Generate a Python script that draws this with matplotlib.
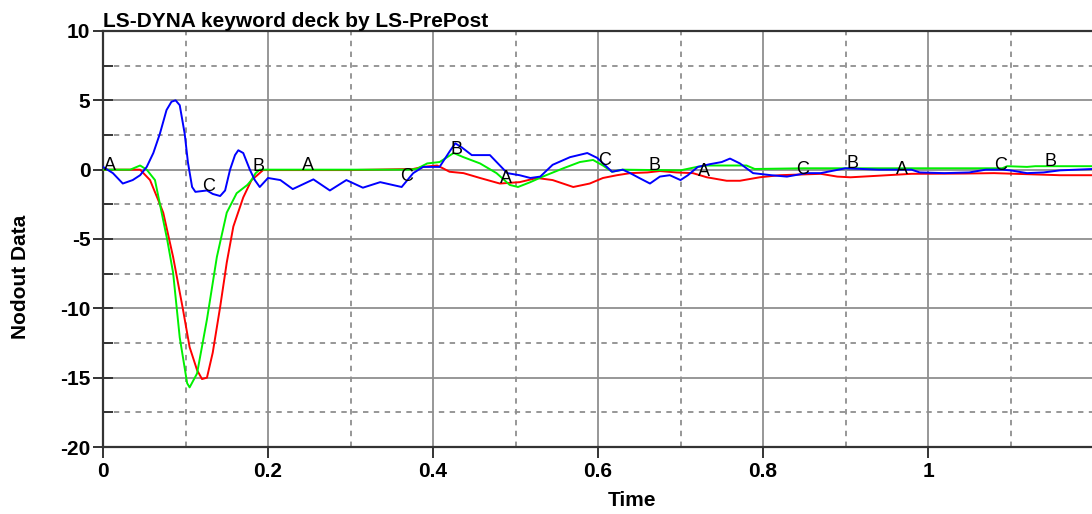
import numpy as np
import matplotlib
matplotlib.use("Agg")
import matplotlib.pyplot as plt
from matplotlib.ticker import MultipleLocator

plt.rcParams['font.family'] = ['Liberation Sans', 'DejaVu Sans']
plt.rcParams['axes.unicode_minus'] = False

# Curve A (red)
t_a = [0, 0.045, 0.057, 0.067, 0.073, 0.085, 0.097, 0.105, 0.114, 0.12, 0.126,
       0.133, 0.142, 0.15, 0.158, 0.17, 0.18, 0.187, 0.194, 0.30, 0.376, 0.388,
       0.405, 0.412, 0.42, 0.437, 0.457, 0.481, 0.505, 0.526, 0.545, 0.57, 0.59,
       0.606, 0.623, 0.639, 0.66, 0.675, 0.695, 0.715, 0.732, 0.756, 0.772,
       0.796, 0.82, 0.87, 0.89, 0.906, 0.936, 0.98, 1.045, 1.08, 1.16, 1.2]
y_a = [0, 0, -0.75, -2.2, -3.1, -6.3, -10.1, -12.8, -14.45, -15.1, -15.0,
       -13.2, -9.9, -6.7, -4.1, -2.0, -0.75, -0.4, -0.03, -0.03, 0.05, 0.2,
       0.3, 0.1, -0.15, -0.25, -0.6, -1.0, -0.9, -0.6, -0.75, -1.25, -1.0,
       -0.6, -0.4, -0.25, -0.2, -0.1, -0.2, -0.25, -0.55, -0.8, -0.8,
       -0.55, -0.4, -0.3, -0.5, -0.55, -0.45, -0.3, -0.28, -0.25, -0.4, -0.4]

# Curve B (green)
t_b = [0, 0.033, 0.045, 0.053, 0.063, 0.078, 0.085, 0.093, 0.102, 0.105, 0.114,
       0.126, 0.138, 0.15, 0.162, 0.175, 0.18, 0.185, 0.19, 0.37, 0.38, 0.393,
       0.408, 0.425, 0.437, 0.457, 0.477, 0.493, 0.503, 0.518, 0.533, 0.558,
       0.578, 0.594, 0.606, 0.617, 0.63, 0.70, 0.72, 0.732, 0.78, 0.79, 0.85,
       1.09, 1.096, 1.12, 1.13, 1.2]
y_b = [0, 0, 0.3, 0, -0.75, -5.1, -7.45, -12.1, -15.4, -15.7, -14.7,
       -10.8, -6.3, -3.1, -1.7, -1.1, -0.75, -0.25, 0, 0, 0.05, 0.45,
       0.55, 1.2, 0.9, 0.45, -0.25, -1.1, -1.25, -0.9, -0.5, 0.1,
       0.55, 0.7, 0.3, -0.15, 0, -0.05, 0.2, 0.3, 0.3, 0.05, 0.1,
       0.1, 0.25, 0.2, 0.25, 0.25]

# Curve C (blue)
t_c = [0, 0.012, 0.024, 0.036, 0.045, 0.053, 0.061, 0.069, 0.077, 0.083, 0.088,
       0.093, 0.099, 0.103, 0.108, 0.112, 0.126, 0.133, 0.142, 0.148, 0.154,
       0.16, 0.164, 0.17, 0.178, 0.184, 0.19, 0.2, 0.215, 0.23, 0.255, 0.275,
       0.295, 0.315, 0.336, 0.362, 0.376, 0.388, 0.408, 0.42, 0.427, 0.435,
       0.447, 0.469, 0.49, 0.505, 0.518, 0.53, 0.545, 0.566, 0.587, 0.599,
       0.617, 0.63, 0.639, 0.65, 0.663, 0.675, 0.687, 0.70, 0.709, 0.721,
       0.736, 0.75, 0.76, 0.772, 0.788, 0.81, 0.829, 0.853, 0.87, 0.90, 0.94,
       0.98, 0.99, 1.02, 1.05, 1.07, 1.09, 1.10, 1.12, 1.14, 1.16, 1.2]
y_c = [0.2, -0.25, -1.0, -0.75, -0.4, 0.2, 1.2, 2.6, 4.3, 4.9, 5.0,
       4.65, 2.6, 0.5, -1.25, -1.6, -1.5, -1.75, -1.9, -1.5, 0,
       1.05, 1.4, 1.2, 0, -0.75, -1.25, -0.6, -0.75, -1.4, -0.7, -1.5,
       -0.75, -1.3, -0.9, -1.25, -0.25, 0.2, 0.2, 1.3, 1.9, 1.6,
       1.05, 1.05, -0.25, -0.4, -0.6, -0.5, 0.35, 0.9, 1.2, 0.85,
       -0.15, 0, -0.25, -0.6, -1.0, -0.5, -0.4, -0.75, -0.4, 0.2,
       0.4, 0.55, 0.8, 0.45, -0.25, -0.4, -0.5, -0.25, -0.25, 0.1, 0.0,
       0.0, -0.2, -0.25, -0.2, 0.0, 0.0, -0.05, -0.25, -0.2, -0.05, 0.05]

# Curve identifier positions along the time axis
label_t_a = [0.008, 0.248, 0.488, 0.728, 0.968]
label_t_b = [0.188, 0.428, 0.668, 0.908, 1.148]
label_t_c = [0.128, 0.368, 0.608, 0.848, 1.088]

curves = [
    ("A", t_a, y_a, "#ff0000", label_t_a),
    ("B", t_b, y_b, "#00f000", label_t_b),
    ("C", t_c, y_c, "#0000ff", label_t_c),
]

fig = plt.figure(figsize=(10.92, 5.14), dpi=100)
ax = fig.add_axes([103 / 1092, 1 - 447 / 514, 990 / 1092, 416 / 514])

for name, t, y, color, lts in curves:
    ax.plot(t, y, color=color, lw=1.4, zorder=3)

for name, t, y, color, lts in curves:
    for lt in lts:
        ly = np.interp(lt, t, y)
        ax.annotate(name, (lt, ly), xytext=(0, 0), textcoords="offset points",
                    ha="center", va="baseline", fontsize=13, color="black",
                    zorder=4)

ax.set_xlim(0, 1.2)
ax.set_ylim(-20, 10)

ax.xaxis.set_major_locator(MultipleLocator(0.2))
ax.xaxis.set_minor_locator(MultipleLocator(0.1))
ax.yaxis.set_major_locator(MultipleLocator(5))
ax.yaxis.set_minor_locator(MultipleLocator(2.5))
ax.set_xticks([0, 0.2, 0.4, 0.6, 0.8, 1.0])
ax.set_xticklabels(["0", "0.2", "0.4", "0.6", "0.8", "1"])

ax.grid(which="major", color="#8f8f8f", lw=1.3, ls="-", zorder=1)
ax.grid(which="minor", color="#8f8f8f", lw=1.3, ls=(0, (3, 3)), zorder=1)

ax.tick_params(axis="y", which="major", direction="inout", length=14, width=1.4,
               color="#333333", labelsize=15, pad=2)
ax.tick_params(axis="y", which="minor", direction="in", length=7, width=1.4,
               color="#333333")
ax.tick_params(axis="x", which="major", direction="out", length=8, width=1.4,
               color="#333333", labelsize=15, pad=3)
ax.tick_params(axis="x", which="minor", length=0)
for lab in ax.get_xticklabels() + ax.get_yticklabels():
    lab.set_fontweight("bold")

for side in ("left", "bottom", "top"):
    ax.spines[side].set_color("#333333")
    ax.spines[side].set_linewidth(1.6)
ax.spines["right"].set_visible(False)

ax.set_xlabel("Time", fontsize=15, fontweight="bold")
ax.set_ylabel("Nodout Data", fontsize=15, fontweight="bold")
ax.xaxis.set_label_coords((632 - 103) / 990, -0.105)
ax.yaxis.set_label_coords(-0.074, (447 - 277) / 416)

ax.set_title("LS-DYNA keyword deck by LS-PrePost", loc="left", fontsize=15,
             fontweight="bold", pad=3)

fig.savefig("out.png", dpi=100)
